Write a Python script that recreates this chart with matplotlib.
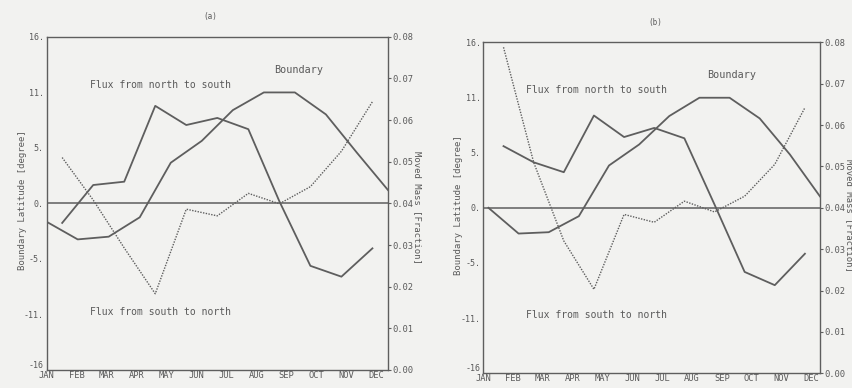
import matplotlib
matplotlib.use("Agg")
import matplotlib.pyplot as plt
import numpy as np

# month labels and tick labels
months = ["JAN", "FEB", "MAR", "APR", "MAY", "JUN", "JUL", "AUG", "SEP", "OCT", "NOV", "DEC"]
lat_ticks = np.linspace(-16, 16, 7)
lat_labels = ["-16", "-11.", "-5.", "0.", "5.", "11.", "16."]
mass_ticks = np.linspace(0.0, 0.08, 9)
mass_labels = [f"{v:.2f}" for v in mass_ticks]

# (a) boundary latitude per month [degree]
boundary_a = [-1.77, -3.46, -3.2, -1.34, 3.9, 6.0, 8.95, 10.65, 10.65, 8.54, 4.86, 1.28]
# (a) moved mass between consecutive months [fraction]
flux_ns_a = [0.0353, 0.0444, 0.0452, 0.0634, 0.0588, 0.0605, 0.0578, 0.0405, 0.0250, 0.0224, 0.0292]
flux_sn_a = [0.0510, 0.0408, 0.0293, 0.0183, 0.0386, 0.0370, 0.0424, 0.0399, 0.0440, 0.0525, 0.0644]

# (b)
boundary_b = [0.0, -2.49, -2.36, -0.81, 4.09, 6.12, 8.87, 10.64, 10.64, 8.64, 5.16, 1.1]
flux_ns_b = [0.0549, 0.0510, 0.0486, 0.0623, 0.0571, 0.0593, 0.0568, 0.0408, 0.0245, 0.0213, 0.0289]
flux_sn_b = [0.0788, 0.0510, 0.0320, 0.0203, 0.0384, 0.0365, 0.0416, 0.0390, 0.0428, 0.0505, 0.0642]

BG = "#f2f2f0"
LINE = "#5e5e5e"
TXT = "#5a5a5a"
FONT = "DejaVu Sans Mono"

plt.rcParams["font.family"] = FONT
plt.rcParams["text.color"] = TXT


def draw_panel(fig, rect, boundary, flux_ns, flux_sn, tick_scale, tick_shift):
    ax = fig.add_axes(rect)
    ax.set_facecolor(BG)
    x_month = np.arange(len(boundary))
    x_flux = np.arange(len(flux_ns)) + 0.5

    ax.plot(x_month, boundary, color=LINE, lw=1.3)
    ax.axhline(0, color=LINE, lw=1.1)
    ax.set_xlim(0, 11)
    ax.set_ylim(-16, 16)
    ax.set_yticks(lat_ticks)
    ax.set_yticklabels(lat_labels)
    ax.set_xticks(x_month * tick_scale + tick_shift)
    ax.set_xticklabels(months)
    ax.tick_params(axis="y", length=0, pad=2, labelsize=6, labelcolor=TXT)
    ax.tick_params(axis="x", length=0, pad=0.5, labelsize=6.3, labelcolor=TXT)
    for lbl in ax.get_yticklabels():
        if lbl.get_text() == "-16":
            lbl.set_va("bottom")
    for s in ax.spines.values():
        s.set_color(LINE)
        s.set_linewidth(1.0)

    ax2 = ax.twinx()
    ax2.plot(x_flux, flux_ns, color=LINE, lw=1.3)
    ax2.plot(x_flux, flux_sn, color=LINE, lw=1.0, linestyle=(0, (1.0, 1.0)))
    ax2.set_ylim(0, 0.08)
    ax2.set_yticks(mass_ticks)
    ax2.set_yticklabels(mass_labels)
    ax2.tick_params(axis="y", length=2, width=0.8, color=LINE, pad=1, labelsize=6.3, labelcolor=TXT)
    for s in ax2.spines.values():
        s.set_visible(False)

    ax.text(0.127, 0.855, "Flux from north to south", transform=ax.transAxes, fontsize=7, va="center")
    ax.text(0.666, 0.9, "Boundary", transform=ax.transAxes, fontsize=7.3, va="center")
    ax.text(0.127, 0.175, "Flux from south to north", transform=ax.transAxes, fontsize=7, va="center")
    return ax


fig = plt.figure(figsize=(8.53, 3.88), dpi=100, facecolor=BG)

draw_panel(fig, [0.0547, 0.0464, 0.4001, 0.859], boundary_a, flux_ns_a, flux_sn_a, 0.965, 0.0)
draw_panel(fig, [0.5666, 0.0379, 0.3947, 0.8531], boundary_b, flux_ns_b, flux_sn_b, 0.99, -0.17)

fig.text(0.2462, 0.958, "(a)", fontsize=5.5, ha="center", va="center")
fig.text(0.768, 0.941, "(b)", fontsize=5.5, ha="center", va="center")

fig.text(0.0258, 0.484, "Boundary Latitude [degree]", rotation=90, fontsize=6.5, ha="center", va="center")
fig.text(0.537, 0.472, "Boundary Latitude [degree]", rotation=90, fontsize=6.5, ha="center", va="center")
fig.text(0.489, 0.466, "Moved Mass [Fraction]", rotation=270, fontsize=6.5, ha="center", va="center")
fig.text(0.996, 0.446, "Moved Mass [Fraction]", rotation=270, fontsize=6.5, ha="center", va="center")

fig.savefig("out.png", dpi=100, facecolor=BG)
plt.close(fig)
